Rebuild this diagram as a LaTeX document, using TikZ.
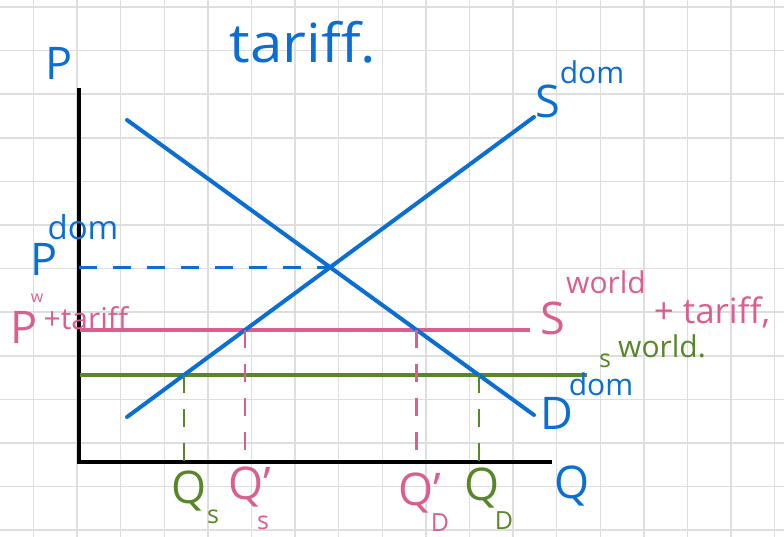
\documentclass[tikz,border=0pt]{standalone}
\usepackage{fontspec}
\setmainfont{Open Sans}
\usetikzlibrary{intersections}
\definecolor{Cblue}{RGB}{10,110,210}
\definecolor{Cpink}{RGB}{218,94,144}
\definecolor{Cgreen}{RGB}{88,134,40}
\definecolor{Cgrid}{RGB}{222,222,222}

\tikzset{
  curve/.style={Cblue, line width=4pt, line cap=round},
  level/.style={line width=4pt},
  axis/.style={black, line width=4pt},
  guide/.style={line width=2.5pt, dash pattern=on 18pt off 16pt},
  big/.style={inner sep=0pt, font=\fontsize{45}{45}\selectfont},
  mid/.style={inner sep=0pt, font=\fontsize{30}{30}\selectfont},
  tiny/.style={inner sep=0pt, font=\fontsize{25}{25}\selectfont},
}

\begin{document}
\begin{tikzpicture}[x=1pt, y=-1pt]
    \useasboundingbox (0,0) rectangle (784,537);

    %% --- grid paper ---
    \foreach \gx in {0,...,17}
        \draw[Cgrid, line width=1.5pt] ({33.5+43.6*\gx},0) -- ({33.5+43.6*\gx},537);
    \foreach \gy in {0,...,12}
        \draw[Cgrid, line width=1.5pt] (0,{7+43.6*\gy}) -- (784,{7+43.6*\gy});

    %% --- axes ---
    \coordinate (O) at (79,462);
    \coordinate (Ptop) at (79,88);
    \coordinate (Qend) at (552,462);
    \draw[axis] (Ptop) -- (O) -- (Qend);

    %% --- world price levels ---
    \draw[Cpink, level, name path=pwt] (80,330) -- (530,330);
    \draw[Cgreen, level, name path=pw] (80,375) -- (587,375);

    %% --- domestic supply and demand ---
    \draw[curve, name path=demand] (127,120) -- (534,415);
    \draw[curve, name path=supply] (127,417) -- (534,117);

    \path[name intersections={of=demand and supply, by=E}];
    \path[name intersections={of=pwt and supply, by=Sp}];
    \path[name intersections={of=pwt and demand, by=Dp}];
    \path[name intersections={of=pw and supply, by=Sw}];
    \path[name intersections={of=pw and demand, by=Dw}];

    %% --- dashed guides ---
    \draw[Cblue, guide] (E -| O) -- (E);
    \draw[Cgreen, guide] (Sw) -- (Sw |- O);
    \draw[Cpink, guide] (Sp) -- (Sp |- O);
    \draw[Cpink, guide] (Dp) -- (Dp |- O);
    \draw[Cgreen, guide] (Dw) -- (Dw |- O);

    %% --- title and axis labels ---
    \node[Cblue, inner sep=0pt, font=\fontsize{54}{54}\selectfont, xscale=1.08] (title) at (303,42) {tariff.};
    \node[Cblue, big] (lblP) at (59,63) {P};
    \node[Cblue, big] (lblQ) at (572,486) {Q};

    %% --- curve labels ---
    \node[Cblue, big] (lblS) at (548,101) {S};
    \node[Cblue, mid] (lblSdom) at (592,72) {dom};
    \node[Cblue, big] (lblD) at (557,413) {D};
    \node[Cblue, mid] (lblDdom) at (601,384) {dom};
    \node[Cpink, big] (lblSwt) at (553,318) {S};
    \node[Cpink, mid] (lblSwtw) at (606,282) {world};
    \node[Cpink, inner sep=0pt, font=\fontsize{35}{35}\selectfont] (lblSwtt) at (712,312) {+ tariff,};
    \node[Cgreen, tiny] (lblSw) at (605,361) {s};
    \node[Cgreen, mid] (lblSww) at (662,346) {world.};

    %% --- price labels ---
    \node[Cblue, big] (lblPd) at (44,259) {P};
    \node[Cblue, inner sep=0pt, font=\fontsize{33}{33}\selectfont] (lblPdom) at (83,227) {dom};
    \node[Cpink, big] (lblPw) at (24,327) {P};
    \node[Cpink, inner sep=0pt, font=\fontsize{16}{16}\selectfont] (lblPww) at (37,298) {w};
    \node[Cpink, mid] (lblPwt) at (86,318) {+tariff};

    %% --- quantity labels ---
    \node[Cgreen, big] (lblQs) at (189,491) {Q};
    \node[Cgreen, tiny] (lblQss) at (213,517) {s};
    \node[Cpink, big] (lblQsp) at (250,487) {Q'};
    \node[Cpink, tiny] (lblQsps) at (263,523) {s};
    \node[Cpink, big] (lblQdp) at (420,493) {Q'};
    \node[Cpink, tiny] (lblQdpd) at (440,523) {D};
    \node[Cgreen, big] (lblQd) at (482,488) {Q};
    \node[Cgreen, tiny] (lblQdd) at (504,521) {D};
\end{tikzpicture}
\end{document}
